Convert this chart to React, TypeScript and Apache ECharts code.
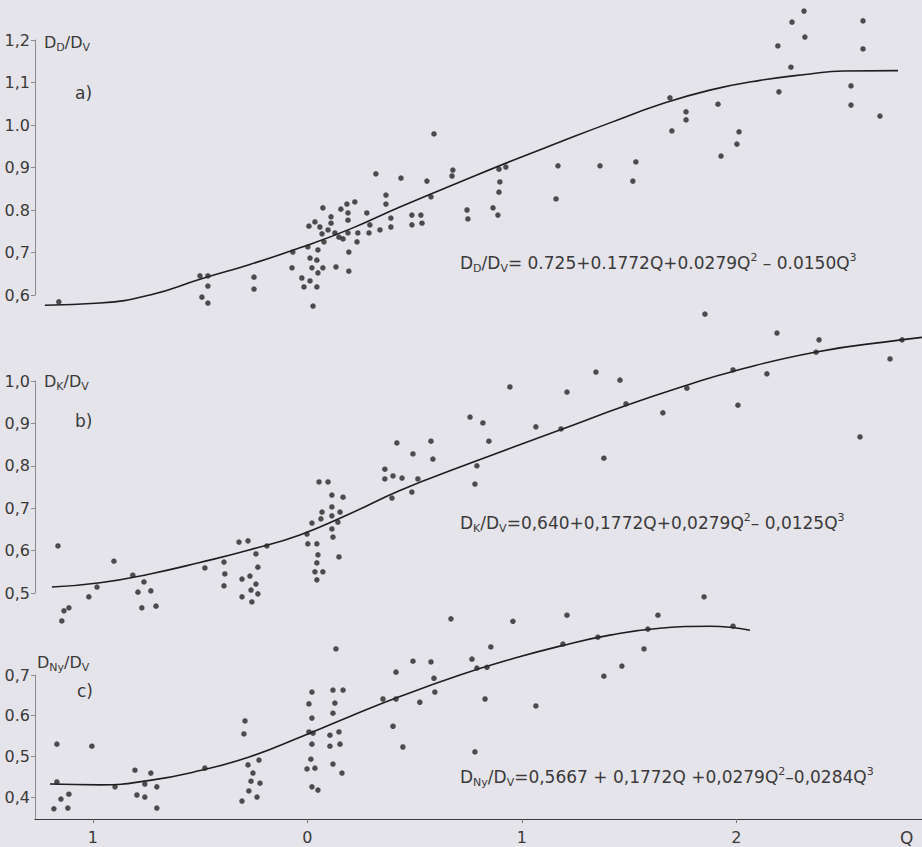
import React, { useEffect, useRef } from "react";
import * as echarts from "echarts";

// ---- axis ticks ----
const qTicks = [-1, 0, 1, 2];
const qTickLabels = ["1", "0", "1", "2"];
const aTicks = [0.6, 0.7, 0.8, 0.9, 1.0, 1.1, 1.2];
const aTickLabels = ["0,6", "0,7", "0.8", "0,9", "1.0", "1,1", "1,2"];
const bTicks = [0.5, 0.6, 0.7, 0.8, 0.9, 1.0];
const bTickLabels = ["0,5", "0,6", "0,7", "0,8", "0,9", "1,0"];
const cTicks = [0.4, 0.5, 0.6, 0.7];
const cTickLabels = ["0,4", "0,5", "0.6", "0,7"];

// ---- panel a) D_D/D_V ----
const aCurve = [
  [-1.224, 0.576], [-0.967, 0.581], [-0.734, 0.6], [-0.501, 0.637], [-0.268, 0.672],
  [-0.035, 0.711], [0.198, 0.755], [0.431, 0.807], [0.711, 0.866], [0.944, 0.914],
  [1.177, 0.96], [1.41, 1.005], [1.643, 1.048], [1.876, 1.082], [2.11, 1.105],
  [2.343, 1.12], [2.497, 1.127], [2.753, 1.128],
];
const aDots = [
  [-1.159, 0.584], [-0.501, 0.645], [-0.464, 0.645], [-0.492, 0.595], [-0.464, 0.621],
  [-0.464, 0.581], [-0.249, 0.642], [-0.249, 0.614], [-0.068, 0.701], [-0.072, 0.664],
  [0.002, 0.713], [0.007, 0.762], [-0.026, 0.64], [-0.016, 0.619], [0.012, 0.633],
  [0.044, 0.619], [0.026, 0.574], [0.035, 0.772], [0.058, 0.76], [0.049, 0.706],
  [0.012, 0.687], [0.044, 0.682], [0.021, 0.664], [0.049, 0.652], [0.072, 0.805],
  [0.068, 0.744], [0.077, 0.725], [0.072, 0.664], [0.11, 0.784], [0.11, 0.769],
  [0.096, 0.753], [0.128, 0.746], [0.133, 0.666], [0.156, 0.802], [0.147, 0.736],
  [0.166, 0.732], [0.184, 0.814], [0.189, 0.793], [0.189, 0.776], [0.189, 0.746],
  [0.193, 0.701], [0.193, 0.656], [0.221, 0.819], [0.235, 0.746], [0.231, 0.725],
  [0.277, 0.793], [0.287, 0.746], [0.291, 0.765], [0.319, 0.885], [0.338, 0.753],
  [0.366, 0.835], [0.366, 0.814], [0.389, 0.781], [0.389, 0.76], [0.436, 0.875],
  [0.487, 0.788], [0.487, 0.765], [0.529, 0.788], [0.534, 0.769], [0.557, 0.868],
  [0.576, 0.831], [0.59, 0.979], [0.674, 0.88], [0.678, 0.894], [0.744, 0.8],
  [0.748, 0.779], [0.865, 0.805], [0.888, 0.788], [0.893, 0.896], [0.925, 0.901],
  [0.897, 0.866], [0.893, 0.842], [1.168, 0.904], [1.159, 0.826], [1.364, 0.904],
  [1.531, 0.913], [1.517, 0.868], [1.69, 1.064], [1.699, 0.986], [1.765, 1.031],
  [1.765, 1.012], [1.914, 1.049], [1.928, 0.927], [2.012, 0.984], [2.002, 0.955],
  [2.193, 1.186], [2.198, 1.078], [2.259, 1.242], [2.254, 1.136], [2.315, 1.268],
  [2.319, 1.207], [2.534, 1.092], [2.534, 1.047], [2.59, 1.245], [2.59, 1.179],
  [2.669, 1.021], [1.853, 0.555],
];

// ---- panel b) D_K/D_V ----
const bCurve = [
  [-1.191, 0.514], [-0.967, 0.524], [-0.734, 0.545], [-0.501, 0.572], [-0.268, 0.602],
  [-0.035, 0.637], [0.198, 0.687], [0.431, 0.742], [0.711, 0.797], [1.186, 0.886],
  [1.485, 0.942], [1.769, 0.99], [1.979, 1.022], [2.366, 1.068], [2.767, 1.097],
  [2.865, 1.103],
];
const bDots = [
  [-1.163, 0.611], [-0.981, 0.514], [-0.902, 0.575], [-1.019, 0.491], [-0.814, 0.542],
  [-0.762, 0.526], [-0.79, 0.502], [-0.73, 0.505], [-0.478, 0.559], [-0.389, 0.573],
  [-0.319, 0.62], [-0.277, 0.623], [-0.24, 0.592], [-0.385, 0.545], [-0.389, 0.517],
  [-0.305, 0.533], [-0.268, 0.54], [-0.231, 0.561], [-0.24, 0.521], [-0.263, 0.507],
  [-0.231, 0.498], [-0.189, 0.611], [-0.002, 0.639], [0.021, 0.665], [0.002, 0.616],
  [0.044, 0.616], [0.049, 0.59], [0.044, 0.571], [0.035, 0.55], [0.072, 0.55],
  [0.044, 0.531], [0.063, 0.675], [0.068, 0.691], [0.054, 0.762], [0.096, 0.762],
  [0.114, 0.731], [0.114, 0.703], [0.114, 0.682], [0.114, 0.651], [0.119, 0.632],
  [0.142, 0.667], [0.152, 0.691], [0.166, 0.726], [0.147, 0.585], [0.361, 0.792],
  [0.361, 0.769], [0.399, 0.776], [0.441, 0.771], [0.417, 0.854], [0.394, 0.724],
  [0.492, 0.828], [0.487, 0.738], [0.515, 0.769], [0.576, 0.858], [0.585, 0.816],
  [-1.145, 0.434], [-1.135, 0.458], [-1.112, 0.465], [-0.772, 0.465], [-0.706, 0.469],
  [-0.305, 0.491], [-0.259, 0.479], [0.669, 0.439], [2.189, 1.113], [2.385, 1.097],
  [2.371, 1.068], [2.772, 1.097], [2.716, 1.052], [2.576, 0.868], [1.984, 1.026],
  [2.142, 1.017], [2.007, 0.943], [1.769, 0.983], [1.657, 0.925], [1.457, 1.002],
  [1.345, 1.021], [1.485, 0.946], [1.21, 0.974], [1.182, 0.887], [1.065, 0.892],
  [1.382, 0.818], [0.944, 0.986], [0.758, 0.915], [0.818, 0.901], [0.846, 0.858],
  [0.79, 0.8], [0.781, 0.757], [1.849, 0.491],
];

// ---- panel c) D_Ny/D_V ----
const cCurve = [
  [-1.2, 0.432], [-0.967, 0.43], [-0.734, 0.441], [-0.501, 0.465], [-0.268, 0.499],
  [-0.035, 0.547], [0.198, 0.598], [0.431, 0.647], [0.711, 0.7], [0.944, 0.738],
  [1.177, 0.771], [1.41, 0.798], [1.643, 0.815], [1.876, 0.82], [2.063, 0.81],
];
const cDots = [
  [-1.168, 0.53], [-1.168, 0.437], [-1.005, 0.525], [-1.149, 0.395], [-1.182, 0.371],
  [-1.112, 0.407], [-1.117, 0.373], [-0.897, 0.425], [-0.804, 0.466], [-0.73, 0.459],
  [-0.758, 0.432], [-0.795, 0.405], [-0.758, 0.4], [-0.702, 0.425], [-0.702, 0.373],
  [-0.478, 0.471], [-0.291, 0.587], [-0.296, 0.555], [-0.277, 0.479], [-0.254, 0.459],
  [-0.263, 0.439], [-0.273, 0.415], [-0.305, 0.39], [-0.221, 0.434], [-0.235, 0.4],
  [-0.226, 0.491], [0.021, 0.658], [0.007, 0.629], [0.021, 0.594], [0.007, 0.56],
  [0.026, 0.557], [0.021, 0.53], [0.016, 0.493], [-0.002, 0.469], [0.035, 0.471],
  [0.021, 0.425], [0.049, 0.417], [0.119, 0.663], [0.166, 0.663], [0.128, 0.631],
  [0.119, 0.606], [0.105, 0.552], [0.147, 0.56], [0.105, 0.525], [0.152, 0.53],
  [0.119, 0.481], [0.161, 0.459], [0.133, 0.764], [0.352, 0.641], [0.399, 0.574],
  [0.413, 0.707], [0.413, 0.641], [0.445, 0.523], [0.492, 0.734], [0.524, 0.633],
  [0.576, 0.732], [0.59, 0.692], [0.594, 0.658], [1.21, 0.847], [1.634, 0.847],
  [0.958, 0.832], [0.767, 0.739], [0.855, 0.769], [0.79, 0.717], [0.837, 0.719],
  [1.191, 0.776], [1.354, 0.793], [1.569, 0.764], [1.587, 0.813], [1.984, 0.82],
  [1.466, 0.722], [1.382, 0.697], [0.828, 0.641], [1.065, 0.624], [0.781, 0.511],
];

const X_MIN = -1.27;
const X_MAX = 2.865;
const FONT = "DejaVu Sans";
const TXT = "#3a3a3a";

function pick(ticks: number[], labels: string[]) {
  return (v: number) => {
    const i = ticks.findIndex((t) => Math.abs(t - v) < 1e-6);
    return i >= 0 ? labels[i] : "";
  };
}

const rich = {
  m: { fontSize: 17, fontFamily: FONT, fill: TXT, lineHeight: 22 },
  t: { fontSize: 16, fontFamily: FONT, fill: TXT, lineHeight: 22 },
  s: { fontSize: 11, fontFamily: FONT, fill: TXT, lineHeight: 13, verticalAlign: "bottom" },
  p: { fontSize: 11, fontFamily: FONT, fill: TXT, lineHeight: 13, verticalAlign: "top" },
};

function richText(x: number, y: number, text: string) {
  return {
    type: "text",
    x,
    y,
    silent: true,
    style: { text, rich, verticalAlign: "middle", align: "left", fill: TXT },
  };
}

function plainText(x: number, y: number, text: string, size = 17) {
  return {
    type: "text",
    x,
    y,
    silent: true,
    style: { text, fontSize: size, fontFamily: FONT, fill: TXT, verticalAlign: "middle", align: "left" },
  };
}

function yAxis(grid: number, min: number, max: number, ticks: number[], labels: string[]) {
  return {
    type: "value",
    gridIndex: grid,
    min,
    max,
    splitLine: { show: false },
    axisLine: { show: true, onZero: false, lineStyle: { color: "#8c8c8c", width: 1 } },
    axisTick: { show: true, length: 4, customValues: ticks, lineStyle: { color: "#8c8c8c" } },
    axisLabel: {
      customValues: ticks,
      formatter: pick(ticks, labels),
      margin: 5,
      fontSize: 16,
      fontFamily: FONT,
      color: TXT,
    },
  };
}

function xAxis(grid: number, show: boolean) {
  return {
    type: "value",
    gridIndex: grid,
    min: X_MIN,
    max: X_MAX,
    show,
    splitLine: { show: false },
    axisLine: { show: true, onZero: false, lineStyle: { color: "#3a3a3a", width: 1.2 } },
    axisTick: { show: true, length: 4, customValues: qTicks, lineStyle: { color: "#777" } },
    axisLabel: {
      customValues: qTicks,
      formatter: pick(qTicks, qTickLabels),
      margin: 10,
      fontSize: 16,
      fontFamily: FONT,
      color: TXT,
    },
  };
}

function curve(idx: number, data: number[][]) {
  return {
    type: "line",
    xAxisIndex: idx,
    yAxisIndex: idx,
    data,
    smooth: 0.5,
    showSymbol: false,
    clip: false,
    silent: true,
    lineStyle: { color: "#1e1e1e", width: 1.6 },
    z: 2,
  };
}

function dots(idx: number, data: number[][]) {
  return {
    type: "scatter",
    xAxisIndex: idx,
    yAxisIndex: idx,
    data,
    symbol: "circle",
    symbolSize: 5.5,
    clip: false,
    silent: true,
    itemStyle: { color: "#262626" },
    z: 3,
  };
}

export default function App() {
  const ref = useRef<HTMLDivElement>(null);
  useEffect(() => {
    if (!ref.current) return;
    const chart = echarts.init(ref.current, undefined, { renderer: "svg" });
    chart.setOption({
      animation: false,
      backgroundColor: "#e6e4eb",
      grid: [
        { left: 35, right: 0, top: 40, height: 255 },
        { left: 35, right: 0, top: 381, height: 212 },
        { left: 35, right: 0, top: 675, height: 144 },
      ],
      xAxis: [xAxis(0, false), xAxis(1, false), xAxis(2, true)],
      yAxis: [
        yAxis(0, 0.6, 1.2, aTicks, aTickLabels),
        yAxis(1, 0.5, 1.0, bTicks, bTickLabels),
        yAxis(2, 0.346, 0.7, cTicks, cTickLabels),
      ],
      series: [
        curve(0, aCurve),
        dots(0, aDots),
        curve(1, bCurve),
        dots(1, bDots),
        curve(2, cCurve),
        dots(2, cDots),
      ],
      graphic: [
        richText(44, 42, "{t|D}{s|D}{t|/D}{s|V}"),
        plainText(75, 93, "a)"),
        richText(44, 381, "{t|D}{s|K}{t|/D}{s|V}"),
        plainText(75, 421, "b)"),
        richText(37, 662, "{t|D}{s|Ny}{t|/D}{s|V}"),
        plainText(77, 691, "c)"),
        plainText(900, 838, "Q", 17),
        richText(460, 263, "{m|D}{s|D}{m|/D}{s|V}{m|= 0.725+0.1772Q+0.0279Q}{p|2}{m| – 0.0150Q}{p|3}"),
        richText(460, 523, "{m|D}{s|K}{m|/D}{s|V}{m|=0,640+0,1772Q+0,0279Q}{p|2}{m|– 0,0125Q}{p|3}"),
        richText(460, 777, "{m|D}{s|Ny}{m|/D}{s|V}{m|=0,5667 + 0,1772Q +0,0279Q}{p|2}{m|–0,0284Q}{p|3}"),
      ],
    });
    return () => chart.dispose();
  }, []);
  return (
    <div
      ref={ref}
      style={{ position: "absolute", left: 0, top: 0, width: 922, height: 847 }}
    />
  );
}
